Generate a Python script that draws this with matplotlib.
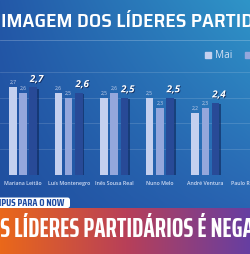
import numpy as np
import matplotlib
matplotlib.use("Agg")
import matplotlib.pyplot as plt
import matplotlib.patheffects as pe
from matplotlib.patches import Patch, FancyBboxPatch

# dados da sondagem (escala de 1 a 5)
categories = ['Mariana Leitão', 'Luís Montenegro', 'Inês Sousa Real', 'Nuno Melo', 'André Ventura', 'Paulo Raimundo']
series_names = ['Mai', 'Jul', 'Set']
mai = [2.7, 2.6, 2.5, 2.5, 2.2]
jul = [2.6, 2.5, 2.6, 2.3, 2.3]
atual = [2.7, 2.6, 2.5, 2.5, 2.4]

title = 'IMAGEM DOS LÍDERES PARTIDÁRIOS'
source = 'SONDAGEM INTERCAMPUS PARA O NOW'
headline = 'IMAGEM DOS LÍDERES PARTIDÁRIOS É NEGATIVA'

c_mai = '#c4d0ef'
c_jul = '#94a7dc'
c_atual = '#284a97'

W, H = 251, 254
fig = plt.figure(figsize=(W / 100, H / 100), dpi=100)
r = fig.canvas.get_renderer()


def text_width(sample, **kw):
    t = fig.text(0, 0, sample, **kw)
    w = t.get_window_extent(r).width
    t.remove()
    return w


def fit_size(sample, width_px, **kw):
    # tamanho de letra para a parte visivel ocupar width_px
    size = 10.0
    for _ in range(3):
        size *= width_px / text_width(sample, fontsize=size, **kw)
    return size


# fundo em gradiente
bg = fig.add_axes([0, 0, 1, 1])
bg.set_xlim(0, W)
bg.set_ylim(H, 0)
bg.axis('off')
xx, yy = np.meshgrid(np.linspace(0, 1, W), np.linspace(0, 1, 210))
tl = np.array([0x23, 0x58, 0xa8]) / 255
tr = np.array([0x2f, 0x95, 0xc8]) / 255
bl = np.array([0x20, 0x4f, 0x9f]) / 255
br = np.array([0x29, 0x64, 0xb2]) / 255
img = ((1 - xx) * (1 - yy))[..., None] * tl + (xx * (1 - yy))[..., None] * tr \
    + ((1 - xx) * yy)[..., None] * bl + (xx * yy)[..., None] * br
bg.imshow(img, extent=(0, W, 210, 0), aspect='auto', zorder=0)
bg.axhline(40, color='white', alpha=0.25, lw=0.6)

# faixa laranja/roxa
t = np.linspace(0, 1, W)[:, None]
c0 = np.array([0xea, 0x68, 0x1a]) / 255
c1 = np.array([0xb8, 0x40, 0x58]) / 255
c2 = np.array([0x66, 0x3e, 0xa2]) / 255
band = np.where(t < 0.5, c0 + (c1 - c0) * (t / 0.5), c1 + (c2 - c1) * ((t - 0.5) / 0.5))
bg.imshow(band[None, :, :], extent=(0, W, 254, 208), aspect='auto', zorder=1)
bg.add_patch(FancyBboxPatch((-10, 197.5), 80, 10.5, boxstyle='round,pad=0,rounding_size=2.5',
                            fc='white', ec='none', zorder=2))

src_kw = dict(family='Saira Condensed', fontweight='bold')
fs_src = fit_size('PUS PARA O NOW', 63, **src_kw)
bg.text(64, 203, source, ha='right', va='center', color='#1f4ca2', fontsize=fs_src, zorder=3, **src_kw)

tit_kw = dict(family='Saira SemiCondensed', fontweight='semibold')
fs_tit = fit_size('IMAGEM DOS LÍDERES PARTID', 253, **tit_kw)
fig.text(1 / W, 1 - 22 / H, title, ha='left', va='center', color='white', fontsize=fs_tit, **tit_kw)

# titulo grande da faixa, comeca fora do ecra
hl_kw = dict(family='Saira ExtraCondensed', fontweight='bold')
fs_hl = fit_size('S LÍDERES PARTIDÁRIOS É NEGA', 254, **hl_kw)
pw = text_width('IMAGEM DO', fontsize=fs_hl, **hl_kw)
bg.text(0.5 - pw, 229.5, headline, ha='left', va='center', color='white', fontsize=fs_hl,
        zorder=3, **hl_kw)

# grafico de barras
ax = fig.add_axes([0, (H - 175) / H, 1, 115 / H])
ax.patch.set_alpha(0)
x = np.arange(len(mai))
bw = 0.168
off = 0.225
b1 = ax.bar(x - off, mai, bw, color=c_mai, zorder=3)
b2 = ax.bar(x, jul, bw, color=c_jul, zorder=3)
b3 = ax.bar(x + off, atual, bw, color=c_atual, zorder=3,
            path_effects=[pe.SimplePatchShadow(offset=(1.2, -0.8), shadow_rgbFace='#0d2457', alpha=0.6), pe.Normal()])

for bars, vals in [(b1, mai), (b2, jul)]:
    for b, v in zip(bars, vals):
        ax.annotate(('%.1f' % v).replace('.', ','), (b.get_x() + b.get_width() / 2, v),
                    xytext=(0, 1.6), textcoords='offset points', ha='center', va='bottom',
                    fontsize=3.6, color='#c9d3ec', family='Open Sans')
for b, v in zip(b3, atual):
    ax.annotate(('%.1f' % v).replace('.', ','), (b.get_x() + b.get_width() / 2, v),
                xytext=(2.4, 1.8), textcoords='offset points', ha='center', va='bottom',
                fontsize=7, color='white', family='Open Sans', fontweight='bold', style='italic',
                path_effects=[pe.SimplePatchShadow(offset=(0.6, -0.6), shadow_rgbFace='#0b1f4d', alpha=0.8), pe.Normal()])

ax.set_xlim(-0.506, 4.637)
ax.set_ylim(1.0, 3.233)
ax.set_yticks([1.0, 1.5, 2.0, 2.5, 3.0])
ax.yaxis.grid(True, color='white', alpha=0.16, lw=0.6, zorder=0)
ax.tick_params(axis='y', length=0, labelleft=False)
lab_kw = dict(family='Open Sans', fontweight='semibold')
fs_lab = fit_size('Mariana Leitão', 39, **lab_kw)
ax.set_xticks(np.arange(len(categories)))
ax.set_xticklabels(categories, fontsize=fs_lab, color='#cddaf3', **lab_kw)
ax.tick_params(axis='x', length=0, pad=4.6)
for s in ax.spines.values():
    s.set_visible(False)

handles = [Patch(color=c) for c in [c_mai, c_jul, c_atual]]
fig.legend(handles, series_names, loc='center left', bbox_to_anchor=(205 / W, 1 - 56 / H),
           ncol=3, frameon=False, labelcolor='#d3e0f4', handlelength=0.6, handleheight=0.6,
           handletextpad=0.4, columnspacing=1.3, borderpad=0, borderaxespad=0,
           prop={'family': 'Open Sans', 'size': 7.2})

fig.savefig('out.png', dpi=100)
